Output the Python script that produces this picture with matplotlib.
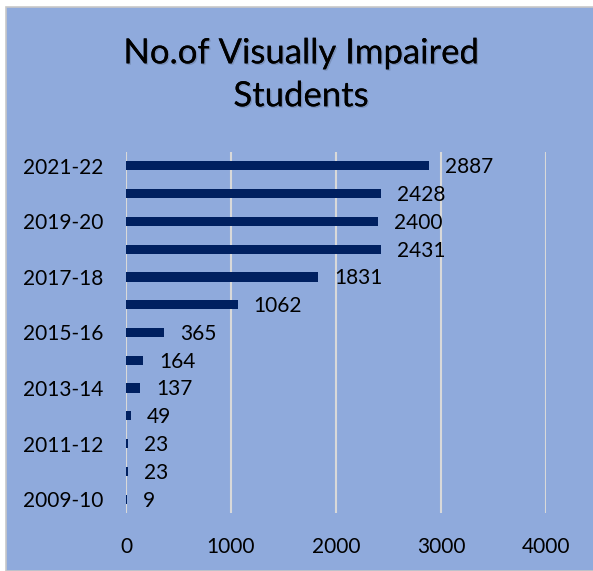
import matplotlib
matplotlib.use('Agg')
import matplotlib.pyplot as plt
import matplotlib.patheffects as pe
from matplotlib.patches import Rectangle

years = ['2009-10', '2010-11', '2011-12', '2012-13', '2013-14', '2014-15',
         '2015-16', '2016-17', '2017-18', '2018-19', '2019-20', '2020-21', '2021-22']
students = [9, 23, 23, 49, 137, 164, 365, 1062, 1831, 2431, 2400, 2428, 2887]

bg = '#8FAADC'
bar_col = '#002060'

plt.rcParams['font.family'] = ['Lato', 'DejaVu Sans']

fig = plt.figure(figsize=(5.93, 5.71), dpi=100, facecolor='white')
# chart area with thin white margin top/left like the screenshot
fig.patches.append(Rectangle((6/593, 0), 1, 1 - 7/571, transform=fig.transFigure,
                             facecolor=bg, edgecolor='#C8C8C8', linewidth=1.2, zorder=-10))

ax = fig.add_axes([126/593, 1 - 513/571, 420/593, 361/571])
ax.set_facecolor(bg)
ax.patch.set_alpha(0)

pos = list(range(len(years)))
ax.barh(pos, students, height=0.33, color=bar_col, zorder=3)

for p, v in zip(pos, students):
    ax.text(v + 150, p - 0.05, str(v), va='center', ha='left', fontsize=15, color='black')

ax.set_xlim(0, 4000)
ax.set_ylim(-0.5, len(years) - 0.5)
ax.set_xticks([0, 1000, 2000, 3000, 4000])
ax.set_yticks(pos[::2])
ax.set_yticklabels(years[::2])
ax.tick_params(axis='both', length=0, labelsize=15)
ax.tick_params(axis='y', pad=16.5)
ax.tick_params(axis='x', pad=17)
ax.grid(axis='x', color='#D9D9D9', linewidth=1.5, zorder=0)
ax.set_axisbelow(True)
for s in ax.spines.values():
    s.set_visible(False)

fig.text(0.508, 0.869, 'No.of Visually Impaired\nStudents', ha='center', va='center',
         fontsize=25, linespacing=1.42, color='black',
         path_effects=[pe.withSimplePatchShadow(offset=(1, -1), shadow_rgbFace='black', alpha=0.15),
                       pe.Normal()])

plt.savefig('out.png', dpi=100, facecolor=fig.get_facecolor())
